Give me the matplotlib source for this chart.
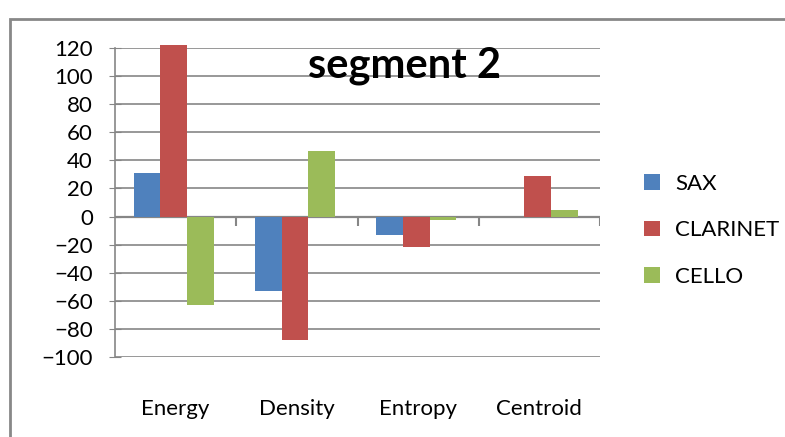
import numpy as np
import matplotlib
matplotlib.use("Agg")
import matplotlib.pyplot as plt
from matplotlib.patches import Rectangle

categories = ["Energy", "Density", "Entropy", "Centroid"]
sax = [31, -53, -13, 0]
clarinet = [122, -88, -22, 29]
cello = [-63, 47, -2.5, 5]
series = ["SAX", "CLARINET", "CELLO"]
colors = ["#4F81BD", "#C0504D", "#9BBB59"]
yticks = np.arange(-100, 121, 20)

plt.rcParams["font.family"] = ["Lato", "DejaVu Sans"]
grid_c = "#868686"

fig = plt.figure(figsize=(7.85, 4.37), dpi=100)
fig.patches.append(Rectangle((10 / 785, -0.1), 1.2, 1 - 19 / 437 + 0.1,
                             transform=fig.transFigure, fill=False,
                             edgecolor="#888888", linewidth=2))
ax = fig.add_axes([115 / 785, 1 - 357 / 437, 485 / 785, 309 / 437])

x = np.arange(len(categories))
w = 0.22
for i, (vals, name) in enumerate(zip([sax, clarinet, cello], series)):
    ax.bar(x + (i - 1) * w - 0.015, vals, w, color=colors[i], label=name,
           zorder=3, clip_on=False)

ax.set_xlim(-0.5, 3.5)
ax.set_ylim(-100, 120)
ax.set_yticks(yticks)
ax.yaxis.grid(True, color=grid_c, linewidth=1.2, zorder=0)
ax.axhline(0, color=grid_c, linewidth=1.6, zorder=2)
ax.vlines(x + 0.5, -6.5, 0, color=grid_c, linewidth=1.5, zorder=4)
for s in ["top", "right", "bottom"]:
    ax.spines[s].set_visible(False)
ax.spines["left"].set_color(grid_c)
ax.spines["left"].set_linewidth(1.2)
ax.tick_params(axis="y", direction="inout", length=8, color=grid_c,
               labelsize=16, pad=12)
ax.set_xticks(x)
ax.set_xticklabels(categories)
ax.tick_params(axis="x", length=0, labelsize=16, pad=30)

fig.text(405 / 785, 1 - 66 / 437, "segment 2", fontsize=30, fontweight="bold",
         ha="center", va="center")

ax.legend(loc="center left", bbox_to_anchor=(1.05, 0.41), frameon=False,
          fontsize=16, handlelength=0.7, handleheight=0.7, labelspacing=1.2,
          handletextpad=0.7)

fig.savefig("out.png", dpi=100)
